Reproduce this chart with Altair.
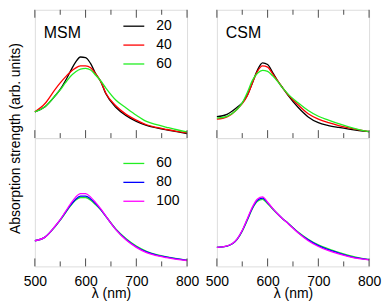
import altair as alt
import pandas as pd

# ---------------- data ----------------
wavelengths = [500, 520, 540, 550, 560, 570, 580, 590, 600, 610, 620,
               630, 640, 660, 680, 700, 720, 740, 760, 780, 800]

# top row: sizes 20, 40, 60
msm_20 = [0.205, 0.245, 0.33, 0.38, 0.445, 0.52, 0.59, 0.632, 0.628, 0.58, 0.50,
          0.44, 0.345, 0.238, 0.175, 0.13, 0.099, 0.08, 0.064, 0.05, 0.035]
msm_40 = [0.205, 0.27, 0.38, 0.43, 0.475, 0.515, 0.545, 0.562, 0.563, 0.548, 0.50,
          0.44, 0.35, 0.25, 0.185, 0.14, 0.104, 0.083, 0.067, 0.053, 0.04]
msm_60 = [0.205, 0.245, 0.33, 0.375, 0.43, 0.48, 0.515, 0.538, 0.543, 0.53, 0.49,
          0.445, 0.39, 0.295, 0.235, 0.178, 0.13, 0.104, 0.084, 0.065, 0.049]

csm_20 = [0.167, 0.185, 0.24, 0.275, 0.335, 0.43, 0.53, 0.586, 0.573, 0.51, 0.445,
          0.39, 0.335, 0.24, 0.165, 0.12, 0.098, 0.083, 0.07, 0.059, 0.05]
csm_40 = [0.147, 0.165, 0.225, 0.268, 0.33, 0.43, 0.52, 0.562, 0.553, 0.5, 0.445,
          0.39, 0.34, 0.26, 0.19, 0.148, 0.12, 0.098, 0.08, 0.064, 0.05]
csm_60 = [0.155, 0.17, 0.225, 0.275, 0.355, 0.45, 0.505, 0.528, 0.52, 0.485, 0.44,
          0.39, 0.345, 0.275, 0.215, 0.17, 0.14, 0.112, 0.087, 0.066, 0.05]

# bottom row: sizes 60, 80, 100
msm2_60 = [0.2, 0.228, 0.31, 0.36, 0.415, 0.47, 0.515, 0.537, 0.537, 0.515, 0.48,
           0.44, 0.39, 0.29, 0.215, 0.158, 0.118, 0.092, 0.075, 0.06, 0.048]
msm2_80 = [0.2, 0.228, 0.312, 0.362, 0.42, 0.475, 0.522, 0.548, 0.548, 0.525, 0.487,
           0.443, 0.39, 0.287, 0.21, 0.153, 0.113, 0.088, 0.072, 0.058, 0.047]
msm2_100 = [0.2, 0.228, 0.315, 0.365, 0.425, 0.485, 0.538, 0.567, 0.568, 0.54, 0.497,
            0.448, 0.392, 0.285, 0.205, 0.148, 0.107, 0.084, 0.068, 0.055, 0.046]

csm2_60 = [0.148, 0.158, 0.21, 0.275, 0.36, 0.45, 0.507, 0.522, 0.488, 0.447, 0.407,
           0.37, 0.338, 0.268, 0.212, 0.168, 0.137, 0.11, 0.085, 0.066, 0.053]
csm2_80 = [0.148, 0.158, 0.212, 0.278, 0.365, 0.455, 0.515, 0.532, 0.495, 0.45, 0.408,
           0.37, 0.337, 0.265, 0.207, 0.162, 0.13, 0.104, 0.081, 0.064, 0.052]
csm2_100 = [0.148, 0.16, 0.215, 0.282, 0.372, 0.463, 0.525, 0.542, 0.5, 0.452, 0.408,
            0.37, 0.335, 0.262, 0.2, 0.155, 0.123, 0.098, 0.077, 0.061, 0.051]

top_names = ["20", "40", "60"]
top_colors = ["#000000", "#ff0000", "#22ee22"]
bottom_names = ["60", "80", "100"]
bottom_colors = ["#22ee22", "#0000ff", "#ff00ff"]

major_ticks = [500, 600, 700, 800]
minor_ticks = [550, 650, 750]

# ---------------- styling ----------------
FONT = "Liberation Sans"
FRAME = "#4d4d4d"
W = 153
H = 129
MAJOR_LEN = 8
MINOR_LEN = 5


def panel_df(names, series):
    rows = []
    for name, vals in zip(names, series):
        for wl, v in zip(wavelengths, vals):
            rows.append({"wl": wl, "v": v, "series": name})
    return pd.DataFrame(rows)


x_scale = alt.Scale(domain=[500, 800], nice=False, zero=False)
y_scale = alt.Scale(domain=[0, 1], nice=False, zero=False)

major_df = pd.DataFrame({"wl": major_ticks})
minor_df = pd.DataFrame({"wl": minor_ticks})

label_axis = alt.Axis(orient="bottom", values=major_ticks, ticks=False, domain=False,
                      grid=False, labelPadding=8, labelFontSize=14, labelFont=FONT,
                      labelColor="black", labelFlush=False, format="d",
                      title="λ (nm)", titleFontSize=14, titleFont=FONT,
                      titleFontWeight="normal", titleColor="black", titlePadding=-2)

y_title_axis = alt.Axis(title="Absorption strength (arb. units)", labels=False,
                        ticks=False, domain=False, grid=False, titleX=-19, titleY=H,
                        titleAngle=270, titleAlign="center", titleBaseline="middle",
                        titleFontSize=14, titleFont=FONT, titleFontWeight="normal",
                        titleColor="black")


def make_legend(legend_y):
    return alt.Legend(orient="none", legendX=88, legendY=legend_y, title=None,
                      symbolType="stroke", symbolSize=441, symbolStrokeWidth=1.3,
                      labelFontSize=14, labelFont=FONT, labelColor="black",
                      labelOffset=11, rowPadding=-6, padding=0)


def inward_ticks(df, edge, length, x_axis):
    # short rules placed through the x scale, hanging inward from a frame edge
    if edge == "top":
        y0, y1 = 0, length
    else:
        y0, y1 = H, H - length
    return alt.Chart(df).mark_rule(color=FRAME, strokeWidth=1).encode(
        x=alt.X("wl:Q", scale=x_scale, axis=x_axis),
        y=alt.value(y0), y2=alt.value(y1),
    )


def make_panel(names, series, colors, label, legend, y_axis, bottom):
    df = panel_df(names, series)
    x_axis = label_axis if bottom else None
    color = alt.Color("series:N", scale=alt.Scale(domain=names, range=colors),
                      legend=legend)
    lines = alt.Chart(df).mark_line(strokeWidth=1.3, interpolate="monotone").encode(
        x=alt.X("wl:Q", scale=x_scale, axis=x_axis),
        y=alt.Y("v:Q", scale=y_scale, axis=y_axis),
        color=color,
    )
    layers = [lines,
              inward_ticks(major_df, "bottom", MAJOR_LEN, x_axis),
              inward_ticks(minor_df, "bottom", MINOR_LEN, x_axis)]
    if not bottom:
        layers += [inward_ticks(major_df, "top", MAJOR_LEN, x_axis),
                   inward_ticks(minor_df, "top", MINOR_LEN, x_axis)]
    if label:
        text = alt.Chart(pd.DataFrame({"t": [label]})).mark_text(
            align="left", baseline="alphabetic", fontSize=16, font=FONT, color="black"
        ).encode(x=alt.value(9), y=alt.value(28), text="t:N")
        layers.append(text)
    return alt.layer(*layers).properties(width=W, height=H)


tl = make_panel(top_names, [msm_20, msm_40, msm_60], top_colors, "MSM",
                make_legend(5), y_title_axis, False)
tr = make_panel(top_names, [csm_20, csm_40, csm_60], top_colors, "CSM",
                None, None, False)
bl = make_panel(bottom_names, [msm2_60, msm2_80, msm2_100], bottom_colors, None,
                make_legend(14), None, True)
br = make_panel(bottom_names, [csm2_60, csm2_80, csm2_100], bottom_colors, None,
                None, None, True)

chart = alt.concat(
    tl, tr, bl, br, columns=2, spacing={"row": 0, "column": 30}, bounds="flush"
).resolve_scale(color="independent").properties(padding=0).configure_view(
    stroke=FRAME, strokeWidth=1.2
).configure(font=FONT)

chart.save("out.html", embed_options={"renderer": "svg", "actions": False})
